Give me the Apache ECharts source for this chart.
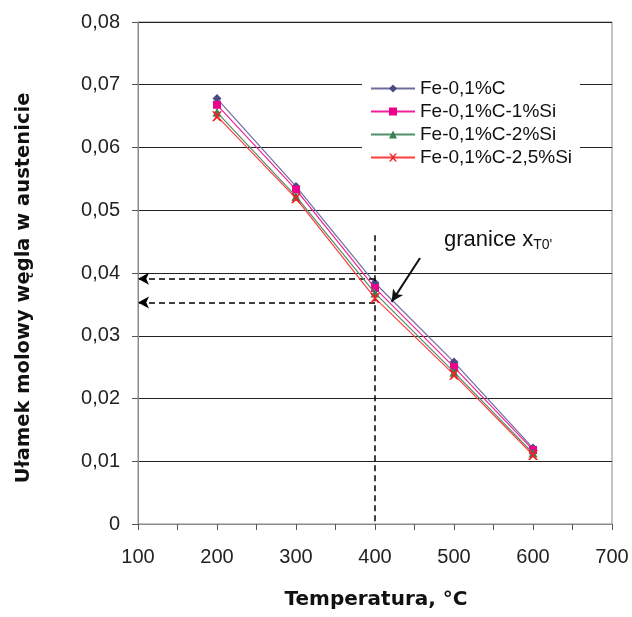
<!DOCTYPE html>
<html>
<head>
<meta charset="utf-8">
<script src="https://cdn.jsdelivr.net/npm/echarts@6/dist/echarts.min.js"></script>
<style>
  html, body { margin: 0; padding: 0; background: #fff; }
  #chart { width: 632px; height: 617px; }
</style>
</head>
<body>
<div id="chart"></div>
<script>
// Temperatures (°C)
const temperatures = [200, 300, 400, 500, 600];

// Mole fraction of carbon in austenite for each alloy
const feC      = [0.0678, 0.0538, 0.0384, 0.0258, 0.0121];
const feCSi1   = [0.0668, 0.0533, 0.0376, 0.0250, 0.0118];
const feCSi2   = [0.0656, 0.0522, 0.0368, 0.0242, 0.0113];
const feCSi25  = [0.0650, 0.0519, 0.0360, 0.0238, 0.0110];

const seriesNames = ['Fe-0,1%C', 'Fe-0,1%C-1%Si', 'Fe-0,1%C-2%Si', 'Fe-0,1%C-2,5%Si'];

const xTitle = 'Temperatura, °C';
const yTitle = 'Ułamek molowy węgla w austenicie';

// T0' limit read-off at 400 °C
const limitTemp = 400;
const limitUpper = 0.0391;
const limitLower = 0.0353;
const limitTop = 0.046;

const font = 'Liberation Sans, Arial, sans-serif';
const boldFont = 'DejaVu Sans, Liberation Sans, sans-serif';

function pairs(ys) { return temperatures.map((t, i) => [t, ys[i]]); }

const chart = echarts.init(document.getElementById('chart'), null, { renderer: 'canvas' });

const dashStyle = { color: '#000', type: [6, 4], width: 1.5 };

chart.setOption({
  animation: false,
  backgroundColor: '#fff',
  textStyle: { fontFamily: font },
  grid: {
    left: 138, right: 20, top: 22, bottom: 93,
    outerBoundsMode: 'none',
    show: true, borderColor: '#8a8a8a', borderWidth: 1
  },
  legend: {
    orient: 'vertical',
    left: 362,
    top: 76,
    itemWidth: 44,
    itemHeight: 10,
    itemGap: 4,
    padding: [3, 8, 3, 8],
    backgroundColor: '#fff',
    textStyle: { fontFamily: font, fontSize: 19, color: '#111', lineHeight: 19 },
    data: seriesNames
  },
  xAxis: {
    type: 'value',
    min: 100, max: 700, interval: 100,
    axisLine: { show: true, onZero: false, lineStyle: { color: '#8a8a8a', width: 1 } },
    axisTick: { show: true, inside: false, length: 6, lineStyle: { color: '#555' } },
    minorTick: { show: true, splitNumber: 2, length: 6, lineStyle: { color: '#555' } },
    axisLabel: { fontFamily: font, fontSize: 20, color: '#222', margin: 23 },
    splitLine: { show: false }
  },
  yAxis: {
    type: 'value',
    min: 0, max: 0.08, interval: 0.01,
    axisLine: { show: true, onZero: false, lineStyle: { color: '#8a8a8a', width: 1 } },
    axisTick: { show: true, inside: false, length: 6, lineStyle: { color: '#555' } },
    axisLabel: {
      fontFamily: font, fontSize: 20, color: '#222', margin: 18,
      formatter: v => v === 0 ? '0' : v.toFixed(2).replace('.', ',')
    },
    splitLine: { show: true, lineStyle: { color: '#222', width: 1 } }
  },
  series: [
    {
      name: seriesNames[0], type: 'line', data: pairs(feC),
      symbol: 'diamond', symbolSize: 9,
      lineStyle: { color: '#6e6e9e', width: 1.2 },
      itemStyle: { color: '#4a4a82' },
      z: 4,
      markLine: {
        silent: true, animation: false,
        label: { show: false },
        data: [
          [{ coord: [limitTemp, limitTop], symbol: 'none' }, { coord: [limitTemp, 0], symbol: 'none' }],
          [{ coord: [limitTemp, limitUpper], symbol: 'none' }, { coord: [100, limitUpper], symbol: 'arrow', symbolSize: [9, 11] }],
          [{ coord: [limitTemp, limitLower], symbol: 'none' }, { coord: [100, limitLower], symbol: 'arrow', symbolSize: [9, 11] }]
        ],
        lineStyle: dashStyle
      }
    },
    {
      name: seriesNames[1], type: 'line', data: pairs(feCSi1),
      symbol: 'rect', symbolSize: 8,
      lineStyle: { color: '#f0209a', width: 1.2 },
      itemStyle: { color: '#ec008c' },
      z: 5
    },
    {
      name: seriesNames[2], type: 'line', data: pairs(feCSi2),
      symbol: 'triangle', symbolSize: 9,
      lineStyle: { color: '#4f8f67', width: 1.2 },
      itemStyle: { color: '#3c7f55' },
      z: 6
    },
    {
      name: seriesNames[3], type: 'line', data: pairs(feCSi25),
      symbol: 'path://M0,0 L2,0 L5,3 L8,0 L10,0 L6,5 L10,10 L8,10 L5,7 L2,10 L0,10 L4,5 Z',
      symbolSize: 10,
      lineStyle: { color: '#ff3b3b', width: 1.2 },
      itemStyle: { color: '#ee2222' },
      z: 7,
      markLine: {
        silent: true, animation: false,
        label: { show: false },
        data: [
          [{ coord: [457, 0.0424], symbol: 'none' }, { coord: [421, 0.0354], symbol: 'arrow', symbolSize: [9, 12] }]
        ],
        lineStyle: { color: '#111', type: 'solid', width: 2 }
      }
    }
  ],
  graphic: [
    {
      type: 'text',
      left: 444,
      top: 229,
      style: {
        text: '{a|granice x}{b|T0\'}',
        rich: {
          a: { fontFamily: font, fontSize: 22, fill: '#111' },
          b: { fontFamily: font, fontSize: 14, fill: '#111', padding: [10, 0, 0, 0] }
        }
      }
    },
    {
      type: 'text',
      x: 376, y: 600,
      style: {
        text: xTitle,
        fontFamily: boldFont, fontSize: 20, fontWeight: 'bold', fill: '#111',
        align: 'center', verticalAlign: 'middle'
      }
    },
    {
      type: 'text',
      x: 24, y: 288,
      rotation: Math.PI / 2,
      style: {
        text: yTitle,
        fontFamily: boldFont, fontSize: 19.5, fontWeight: 'bold', fill: '#111',
        align: 'center', verticalAlign: 'middle'
      }
    }
  ]
});
</script>
</body>
</html>
